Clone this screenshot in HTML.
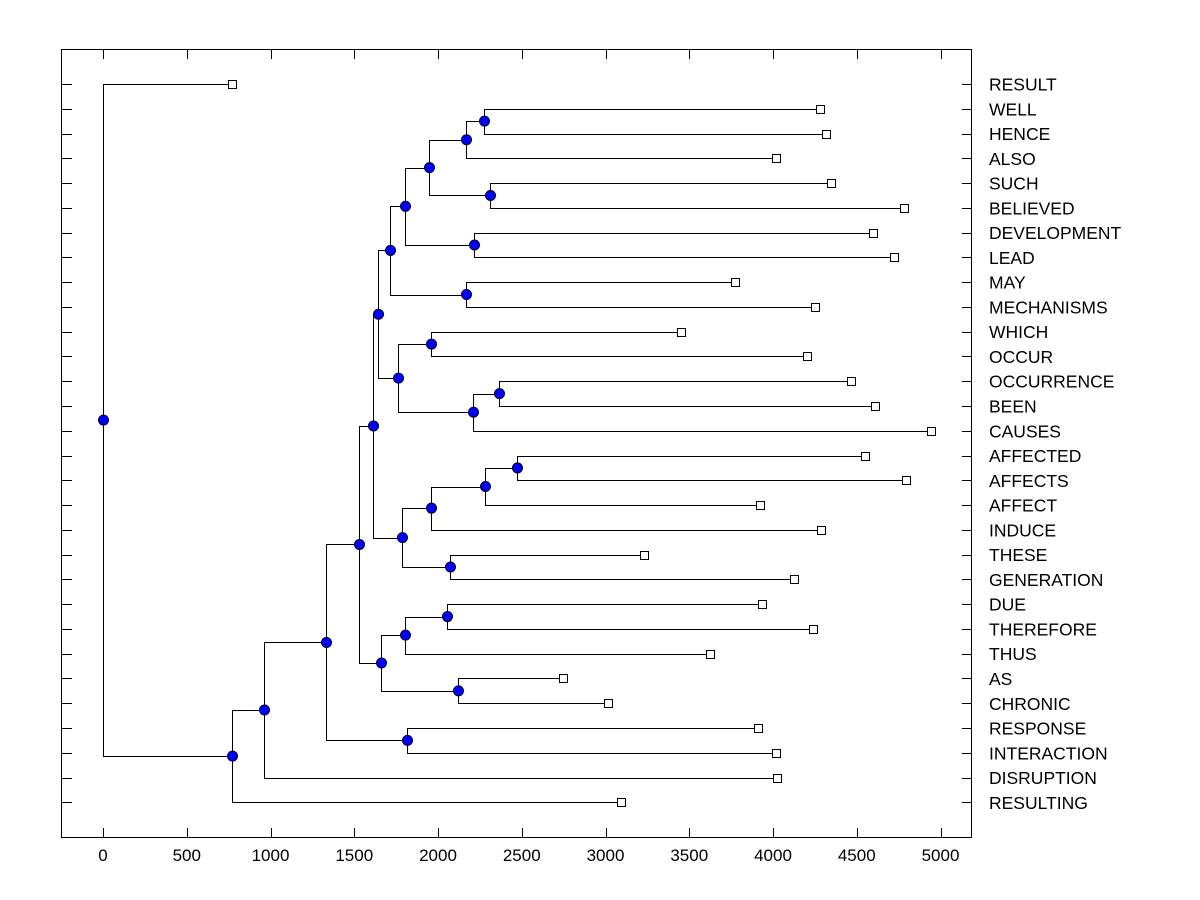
<!DOCTYPE html>
<html><head><meta charset="utf-8"><style>
html,body{margin:0;padding:0;background:#fff;}
svg{display:block;font-family:"Liberation Sans",Arial,sans-serif;}
</style></head><body>
<svg id="chart" width="1200" height="900">
<rect x="61.5" y="49.5" width="910" height="788" fill="none" stroke="#000" stroke-width="1"/>
<g id="ticks"></g>
<g id="links"></g>
<g id="nodes"></g>
<g id="labels"></g>
</svg>
<script>
const leafNames=["RESULT","WELL","HENCE","ALSO","SUCH","BELIEVED","DEVELOPMENT","LEAD","MAY","MECHANISMS","WHICH","OCCUR","OCCURRENCE","BEEN","CAUSES","AFFECTED","AFFECTS","AFFECT","INDUCE","THESE","GENERATION","DUE","THEREFORE","THUS","AS","CHRONIC","RESPONSE","INTERACTION","DISRUPTION","RESULTING"];
const leafValues=[770,4281,4316,4018,4346,4782,4597,4722,3773,4251,3451,4203,4466,4609,4943,4549,4794,3922,4287,3230,4125,3934,4239,3624,2746,3015,3910,4018,4024,3093];
const mergeLeft=[1,30,4,31,6,33,8,35,10,12,39,38,37,15,43,44,19,45,42,21,49,24,50,48,26,53,55,56,0];
const mergeRight=[2,3,5,32,7,34,9,36,11,13,14,40,41,16,17,18,20,46,47,22,23,25,51,52,27,54,28,29,57];
const mergeHeights=[2275,2167,2310,1946,2215,1803,2167,1713,1958,2364,2209,1761,1642,2472,2281,1958,2072,1785,1612,2054,1803,2119,1660,1528,1815,1331,961,770,0];
const xTicks=[0,500,1000,1500,2000,2500,3000,3500,4000,4500,5000];

const NS="http://www.w3.org/2000/svg";
const X0=103,SC=0.1675,Y0=84,DY=24.77;
const xs=v=>X0+v*SC;
const ys=i=>Y0+i*DY;
function mk(tag,attrs,parent){const e=document.createElementNS(NS,tag);for(const k in attrs)e.setAttribute(k,attrs[k]);parent.appendChild(e);return e;}
const gT=document.getElementById('ticks'),gL=document.getElementById('links'),gN=document.getElementById('nodes'),gLab=document.getElementById('labels');

xTicks.forEach(t=>{
  const x=Math.round(xs(t))+0.5;
  let e=mk('line',{x1:x,x2:x,y1:838,y2:828,stroke:'#000'},gT);
  
  
  e=mk('line',{x1:x,x2:x,y1:49,y2:59,stroke:'#000'},gT);
  
  
  const tx=mk('text',{x:xs(t),y:861,'font-size':17,'text-anchor':'middle',fill:'#000'},gT);
  tx.textContent=t;
  
  
});
leafNames.forEach((n,i)=>{
  const y=Math.round(ys(i))+0.5;
  let e=mk('line',{x1:61,x2:72,y1:y,y2:y,stroke:'#000'},gT);
  
  
  e=mk('line',{x1:962,x2:972,y1:y,y2:y,stroke:'#000'},gT);
  
  
  const tx=mk('text',{x:989,y:ys(i)+6.5,'font-size':17.5,fill:'#000'},gLab);
  tx.textContent=n;
  
  
});

const nodeX=[],nodeY=[];
leafValues.forEach((v,i)=>{nodeX.push(xs(v));nodeY.push(ys(i));});
for(let k=0;k<mergeHeights.length;k++){
  const a=mergeLeft[k],b=mergeRight[k];
  const x=Math.round(xs(mergeHeights[k]))+0.5;
  const ya=Math.round(nodeY[a])+0.5,yb=Math.round(nodeY[b])+0.5;
  const p=mk('path',{d:`M${nodeX[a]},${ya}H${x}V${yb}H${nodeX[b]}`,fill:'none',stroke:'#000','stroke-width':1},gL);
  
  
  nodeX.push(x);nodeY.push((nodeY[a]+nodeY[b])/2);
}
for(let k=0;k<mergeHeights.length;k++){
  const id=leafValues.length+k;
  const c=mk('circle',{cx:nodeX[id],cy:nodeY[id],r:5,fill:'#0000ff',stroke:'#000020','stroke-width':1},gN);
  
  
}
leafValues.forEach((v,i)=>{
  const r=mk('rect',{x:Math.round(xs(v))-3.5,y:Math.round(ys(i))-3.5,width:8,height:8,fill:'#fff',stroke:'#000'},gN);
  
  
});
</script>
</body></html>
